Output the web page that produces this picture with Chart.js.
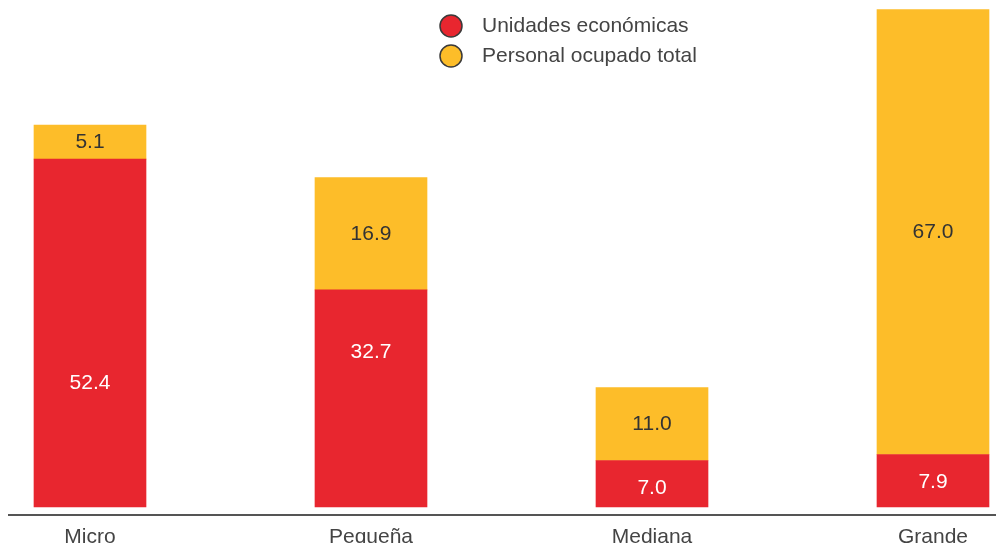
<!DOCTYPE html>
<html>
<head>
<meta charset="utf-8">
<script src="https://cdn.jsdelivr.net/npm/chart.js@4"></script>
<style>
  html, body { margin: 0; padding: 0; background: #fff; }
  #wrap { width: 996px; height: 543px; }
</style>
</head>
<body>
<div id="wrap"><canvas id="tamanoChart"></canvas></div>
<script>
// Estratos por tamaño de empresa (porcentajes)
const categorias = ['Micro', 'Pequeña', 'Mediana', 'Grande'];
const unidades = [52.4, 32.7, 7.0, 7.9];
const personal = [5.1, 16.9, 11.0, 67.0];
const series = ['Unidades económicas', 'Personal ocupado total'];

// altura (en unidades del eje) donde va la etiqueta de unidades
const posEtiquetaUnidades = [18.6, 23.3, 2.8, 3.7];

const ROJO = '#e8262f';
const AMARILLO = '#fdbd29';
const FUENTE = '"Liberation Sans", Arial, sans-serif';

// Etiquetas de valor, eje inferior y leyenda
const extras = {
  id: 'extras',
  afterDatasetsDraw(chart) {
    const c = chart.ctx;
    const y = chart.scales.y;
    c.save();
    c.font = '21px ' + FUENTE;
    c.textAlign = 'center';
    c.textBaseline = 'middle';
    chart.data.datasets.forEach((ds, i) => {
      chart.getDatasetMeta(i).data.forEach((bar, j) => {
        let py = (bar.y + bar.base) / 2;
        if (i === 0) py = y.getPixelForValue(posEtiquetaUnidades[j]);
        c.fillStyle = i === 0 ? '#ffffff' : '#333333';
        c.fillText(ds.data[j].toFixed(1), bar.x, py);
      });
    });

    // línea base
    c.strokeStyle = '#555';
    c.lineWidth = 2;
    c.beginPath();
    c.moveTo(8, 515);
    c.lineTo(chart.width, 515);
    c.stroke();

    // leyenda
    c.textAlign = 'left';
    chart.data.datasets.forEach((ds, i) => {
      const ly = 26 + i * 30;
      c.beginPath();
      c.arc(451, ly, 11, 0, Math.PI * 2);
      c.fillStyle = ds.backgroundColor;
      c.fill();
      c.lineWidth = 1.5;
      c.strokeStyle = '#3a3a3a';
      c.stroke();
      c.fillStyle = '#444';
      c.fillText(ds.label, 482, ly);
    });
    c.restore();
  }
};

new Chart(document.getElementById('tamanoChart'), {
  type: 'bar',
  data: {
    labels: categorias,
    datasets: [
      { label: series[0], data: unidades, backgroundColor: ROJO, clip: false },
      { label: series[1], data: personal, backgroundColor: AMARILLO, clip: false }
    ]
  },
  options: {
    responsive: true,
    maintainAspectRatio: false,
    animation: false,
    layout: { padding: { left: 90, right: 63, top: 9, bottom: 0 } },
    barThickness: 112,
    scales: {
      x: {
        stacked: true,
        offset: false,
        grid: { display: false, drawTicks: false },
        border: { display: false },
        ticks: { color: '#444', font: { family: FUENTE, size: 21 }, padding: 18 },
        afterFit(scale) { scale.height = 36; }
      },
      y: {
        stacked: true,
        display: false,
        min: 0,
        max: 75
      }
    },
    plugins: {
      legend: { display: false },
      tooltip: { enabled: false }
    }
  },
  plugins: [extras]
});
</script>
</body>
</html>
